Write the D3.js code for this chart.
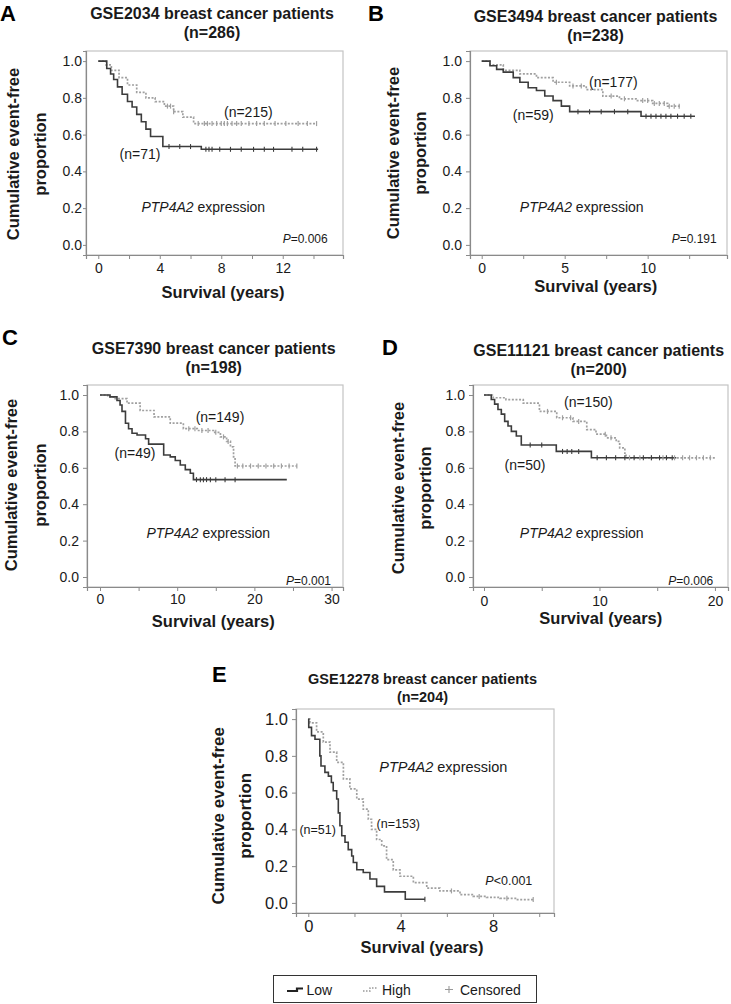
<!DOCTYPE html>
<html><head><meta charset="utf-8">
<script src="https://cdn.jsdelivr.net/npm/d3@7"></script>
<style>
body{margin:0;background:#fff}
svg{display:block;font-family:"Liberation Sans",Arial,Helvetica,sans-serif}
</style>
</head><body>
<svg id="chart" width="731" height="1004"></svg>
<script>
// ---------------- data ----------------
const yTicks = [0, 0.2, 0.4, 0.6, 0.8, 1.0];

// A: GSE2034
const aLowT  = [0, 0.55, 0.8, 1.0, 1.25, 1.55, 1.9, 2.2, 2.5, 2.8, 3.1, 3.4, 4.2, 6.7, 14.3];
const aLowS  = [1, 0.96, 0.93, 0.90, 0.86, 0.82, 0.78, 0.75, 0.71, 0.67, 0.63, 0.59, 0.535, 0.52, 0.52];
const aHighT = [0, 0.5, 0.85, 1.35, 1.9, 2.5, 3.1, 3.7, 4.3, 4.9, 5.5, 6.2, 14.2];
const aHighS = [1, 0.98, 0.95, 0.91, 0.87, 0.83, 0.80, 0.78, 0.755, 0.725, 0.695, 0.66, 0.66];
const aLowCens  = [4.6, 5.3, 6.0, 7.0, 7.2, 7.4, 7.9, 8.6, 9.3, 10.1, 10.8, 11.4, 12.6, 13.3, 14.2];
const aHighCens = [4.5, 4.7, 4.9, 6.5, 6.9, 7.1, 7.4, 7.7, 8.0, 8.2, 8.4, 8.7, 9.0, 9.3, 9.8, 10.3, 10.8, 11.5, 12.2, 13.0, 13.6, 14.2];
const aTicks = [0, 2, 4, 6, 8, 10, 12, 14];
const aLabels = [0, 4, 8, 12];

// B: GSE3494
const bLowT  = [0, 0.5, 0.9, 1.3, 1.9, 2.3, 2.8, 3.3, 3.8, 4.3, 4.8, 5.3, 9.6, 12.85];
const bLowS  = [1, 0.975, 0.955, 0.94, 0.91, 0.885, 0.855, 0.84, 0.81, 0.785, 0.755, 0.725, 0.70, 0.70];
const bHighT = [0, 0.5, 1.3, 2.3, 3.3, 4.3, 5.3, 6.3, 7.3, 8.3, 9.3, 10.3, 11.2, 12.0];
const bHighS = [1, 0.98, 0.95, 0.93, 0.91, 0.885, 0.865, 0.845, 0.81, 0.795, 0.785, 0.77, 0.755, 0.755];
const bLowCens  = [5.8, 6.5, 7.2, 8.0, 8.8, 9.9, 10.2, 10.5, 10.8, 11.1, 11.4, 11.8, 12.2, 12.6];
const bHighCens = [4.5, 5.5, 6.0, 7.8, 8.6, 9.7, 10.0, 10.4, 10.7, 11.0, 11.3, 11.6, 11.9];
const bTicks = [0, 2.5, 5, 7.5, 10, 12.5];
const bLabels = [0, 5, 10];

// C: GSE7390
const cLowT  = [0, 1.3, 2.2, 2.6, 2.85, 3.3, 3.7, 4.15, 4.8, 5.9, 6.3, 8.25, 9.1, 9.75, 10.4, 11.05, 11.7, 12.1, 24.2];
const cLowS  = [1, 0.99, 0.97, 0.945, 0.91, 0.845, 0.815, 0.79, 0.78, 0.76, 0.73, 0.67, 0.66, 0.64, 0.615, 0.59, 0.57, 0.535, 0.535];
const cHighT = [0, 1.0, 1.8, 3.5, 5.2, 7.0, 9.1, 10.8, 12.6, 14.7, 15.6, 16.4, 16.9, 17.3, 17.5, 25.5];
const cHighS = [1, 0.99, 0.98, 0.955, 0.915, 0.88, 0.845, 0.815, 0.805, 0.795, 0.77, 0.745, 0.715, 0.66, 0.61, 0.61];
const cLowCens  = [12.5, 13.0, 13.4, 13.8, 14.3, 15.0, 16.2, 17.5];
const cHighCens = [11.5, 12.3, 13.2, 14.0, 15.0, 16.0, 16.6, 17.8, 18.5, 19.5, 20.5, 21.5, 22.5, 23.5, 24.5, 25.5];
const cTicks = [0, 5, 10, 15, 20, 25, 30];
const cLabels = [0, 10, 20, 30];

// D: GSE11121
const dLowT  = [0, 0.63, 0.92, 1.21, 1.5, 1.79, 2.08, 2.37, 2.8, 3.23, 6.26, 9.3, 16.65];
const dLowS  = [1, 0.975, 0.95, 0.92, 0.895, 0.855, 0.83, 0.80, 0.775, 0.725, 0.69, 0.655, 0.655];
const dHighT = [0, 0.8, 1.9, 3.4, 4.8, 6.3, 7.7, 8.9, 9.7, 10.6, 11.45, 11.75, 12.2, 12.3, 20.1];
const dHighS = [1, 0.985, 0.975, 0.955, 0.91, 0.875, 0.855, 0.81, 0.785, 0.765, 0.745, 0.71, 0.68, 0.655, 0.655];
const dLowCens  = [4.0, 5.0, 6.8, 7.2, 7.6, 8.2, 9.8, 10.6, 11.4, 12.2, 13.0, 13.8, 14.5, 15.2, 15.8, 16.3];
const dHighCens = [5.5, 6.8, 7.5, 8.2, 10.5, 11.0, 12.6, 13.5, 14.5, 15.5, 16.5, 17.2, 17.8, 18.4, 19.0, 19.6];
const dTicks = [0, 5, 10, 15, 20];
const dLabels = [0, 10, 20];

// E: GSE12278
const eLowT  = [0, 0.02, 0.14, 0.29, 0.5, 0.55, 0.72, 0.87, 1.0, 1.08, 1.23, 1.3, 1.37, 1.45, 1.59, 1.73, 1.88, 1.95, 2.1, 2.38, 2.67, 2.96, 3.3, 4.2, 5.05];
const eLowS  = [1, 0.955, 0.91, 0.89, 0.80, 0.745, 0.71, 0.69, 0.655, 0.61, 0.565, 0.49, 0.42, 0.365, 0.33, 0.29, 0.255, 0.22, 0.18, 0.165, 0.13, 0.09, 0.06, 0.02, 0.02];
const eHighT = [0, 0.07, 0.36, 0.65, 0.94, 1.23, 1.52, 1.8, 2.1, 2.38, 2.6, 2.74, 2.96, 3.18, 3.39, 3.68, 3.97, 4.55, 5.13, 5.7, 6.57, 7.14, 7.72, 8.3, 9.02, 9.74];
const eHighS = [1, 0.98, 0.93, 0.875, 0.82, 0.765, 0.675, 0.62, 0.565, 0.51, 0.455, 0.40, 0.345, 0.31, 0.235, 0.18, 0.145, 0.11, 0.08, 0.065, 0.045, 0.035, 0.03, 0.025, 0.018, 0.018];
const eLowCens  = [5.05];
const eHighCens = [6.2, 7.4, 8.6, 9.74];
const eTicks = [0, 2, 4, 6, 8, 10];
const eLabels = [0, 4, 8];

const legendLabels = ["Low", "High", "Censored"];

// ---------------- layout ----------------
const panels = [
  { letter:"A", lx:0, ly:20.5, frame:[86,51,343,255], xDom:[-0.8,15.92],
    title:["GSE2034 breast cancer patients","(n=286)"], tcx:212, tys:[19,38], tfs:16,
    ytx:[13.3,40], ytcy:154, ytfs:16.5, xtcx:223, xty:298, xtfs:16.5,
    tickFs:14, yPad:1, ySize:3, xPad:4,
    lowT:aLowT, lowS:aLowS, highT:aHighT, highS:aHighS, lowC:aLowCens, highC:aHighCens,
    ticks:aTicks, labels:aLabels,
    nHigh:["(n=215)",248.3,116.7], nLow:["(n=71)",140,159], nfs:14,
    expr:[203.3,211.7], efs:14, pTxt:["=0.006","P"], p:[327.7,243], pfs:12 },
  { letter:"B", lx:368, ly:20.5, frame:[470,51,727,255], xDom:[-0.705,14.78],
    title:["GSE3494 breast cancer patients","(n=238)"], tcx:595.5, tys:[22,41], tfs:16,
    ytx:[393.3,420], ytcy:153, ytfs:16.5, xtcx:595.8, xty:292, xtfs:16.5,
    tickFs:14, yPad:4, ySize:4, xPad:4,
    lowT:bLowT, lowS:bLowS, highT:bHighT, highS:bHighS, lowC:bLowCens, highC:bHighCens,
    ticks:bTicks, labels:bLabels,
    nHigh:["(n=177)",613.3,86.7], nLow:["(n=59)",533.3,120], nfs:14,
    expr:[581.7,211.7], efs:14, pTxt:["=0.191","P"], p:[716.7,243], pfs:12 },
  { letter:"C", lx:2, ly:345, frame:[87,385,343,587], xDom:[-1.684,31.48],
    title:["GSE7390 breast cancer patients","(n=198)"], tcx:213.7, tys:[354,373], tfs:16,
    ytx:[11.7,40], ytcy:485, ytfs:16.5, xtcx:213.3, xty:627, xtfs:16.5,
    tickFs:14, yPad:4, ySize:4, xPad:3,
    lowT:cLowT, lowS:cLowS, highT:cHighT, highS:cHighS, lowC:cLowCens, highC:cHighCens,
    ticks:cTicks, labels:cLabels,
    nHigh:["(n=149)",220,421.7], nLow:["(n=49)",135,458.3], nfs:14,
    expr:[208.3,538.3], efs:14, pTxt:["=0.001","P"], p:[331,585], pfs:12 },
  { letter:"D", lx:382, ly:355, frame:[473,385,728,587], xDom:[-0.952,21.13],
    title:["GSE11121 breast cancer patients","(n=200)"], tcx:598.7, tys:[356,375], tfs:16,
    ytx:[398.3,425], ytcy:488, ytfs:16.5, xtcx:600.8, xty:624, xtfs:16.5,
    tickFs:14, yPad:4, ySize:4, xPad:5,
    lowT:dLowT, lowS:dLowS, highT:dHighT, highS:dHighS, lowC:dLowCens, highC:dHighCens,
    ticks:dTicks, labels:dLabels,
    nHigh:["(n=150)",588.3,406.7], nLow:["(n=50)",525,470], nfs:14,
    expr:[581.7,538.3], efs:14, pTxt:["=0.006","P"], p:[713.3,585], pfs:12 },
  { letter:"E", lx:212, ly:682, frame:[296,709,554,913], xDom:[-0.532,10.64],
    title:["GSE12278 breast cancer patients","(n=204)"], tcx:422.5, tys:[684,702], tfs:14.5,
    ytx:[218.3,245], ytcy:815.8, ytfs:17, xtcx:422, xty:953, xtfs:16.5,
    tickFs:16.5, yPad:4, ySize:4, xPad:3,
    lowT:eLowT, lowS:eLowS, highT:eHighT, highS:eHighS, lowC:eLowCens, highC:eHighCens,
    ticks:eTicks, labels:eLabels,
    nHigh:["(n=153)",398.3,827.8], nLow:["(n=51)",317.7,833.5], nfs:12.5,
    expr:[443.3,771.7], efs:14.5, pTxt:["<0.001","P"], p:[532.3,885], pfs:12.5 }
];

const LOW_COL = "#3c3c3c", HIGH_COL = "#a0a0a0", TXT = "#1a1a1a";
const svg = d3.select("#chart");

function survAt(T, S, t) {
  const i = d3.bisectRight(T, t) - 1;
  return S[Math.max(0, i)];
}

panels.forEach(p => {
  const [fx0, fy0, fx1, fy1] = p.frame;
  const x = d3.scaleLinear().domain(p.xDom).range([fx0, fx1]);
  const y = d3.scaleLinear().domain([-0.055, 1.055]).range([fy1, fy0]);
  const g = svg.append("g");

  // frame
  g.append("rect").attr("x", fx0).attr("y", fy0).attr("width", fx1 - fx0).attr("height", fy1 - fy0)
    .attr("fill", "none").attr("stroke", "#c4c4c4").attr("stroke-width", 1.2);

  // y axis
  const ya = g.append("g").attr("transform", `translate(${fx0},0)`)
    .call(d3.axisLeft(y).tickValues(yTicks).tickFormat(d3.format(".1f")).tickSize(p.ySize).tickPadding(p.yPad));
  ya.select(".domain").attr("stroke", "#8a8a8a").attr("stroke-width", 1.2);
  ya.selectAll(".tick line").attr("stroke", "#8a8a8a");
  ya.selectAll("text").attr("font-size", p.tickFs).attr("fill", TXT).attr("font-family", "Liberation Sans, Arial, sans-serif");

  // x axis
  const xa = g.append("g").attr("transform", `translate(0,${fy1})`)
    .call(d3.axisBottom(x).tickValues(p.ticks).tickFormat(d => p.labels.includes(d) ? d : "").tickSize(4).tickPadding(p.xPad));
  xa.select(".domain").attr("stroke", "#8a8a8a").attr("stroke-width", 1.2);
  xa.selectAll(".tick line").attr("stroke", "#8a8a8a");
  xa.selectAll("text").attr("font-size", p.tickFs).attr("fill", TXT).attr("font-family", "Liberation Sans, Arial, sans-serif");

  // curves
  const line = d3.line().x(d => x(d[0])).y(d => y(d[1])).curve(d3.curveStepAfter);
  const highPts = p.highT.map((t, i) => [t, p.highS[i]]);
  const lowPts = p.lowT.map((t, i) => [t, p.lowS[i]]);
  g.append("path").attr("d", line(highPts)).attr("fill", "none")
    .attr("stroke", HIGH_COL).attr("stroke-width", 1.7).attr("stroke-dasharray", "2,1.6");
  g.append("path").attr("d", line(lowPts)).attr("fill", "none")
    .attr("stroke", LOW_COL).attr("stroke-width", 1.6);

  // censor marks
  g.selectAll(".ch").data(p.highC).join("line")
    .attr("x1", d => x(d)).attr("x2", d => x(d))
    .attr("y1", d => y(survAt(p.highT, p.highS, d)) - 2.5)
    .attr("y2", d => y(survAt(p.highT, p.highS, d)) + 2.5)
    .attr("stroke", HIGH_COL).attr("stroke-width", 1.2);
  g.selectAll(".cl").data(p.lowC).join("line")
    .attr("x1", d => x(d)).attr("x2", d => x(d))
    .attr("y1", d => y(survAt(p.lowT, p.lowS, d)) - 2.5)
    .attr("y2", d => y(survAt(p.lowT, p.lowS, d)) + 2.5)
    .attr("stroke", LOW_COL).attr("stroke-width", 1.1);

  // panel letter
  g.append("text").attr("x", p.lx).attr("y", p.ly).text(p.letter)
    .attr("font-size", 22).attr("font-weight", "bold").attr("fill", "#000");

  // title
  p.title.forEach((t, i) => {
    g.append("text").attr("x", p.tcx).attr("y", p.tys[i]).attr("text-anchor", "middle")
      .attr("font-size", p.tfs).attr("font-weight", "bold").attr("fill", TXT).text(t);
  });

  // y title
  ["Cumulative event-free", "proportion"].forEach((t, i) => {
    const bx = p.ytx[i] + 0.35 * p.ytfs;
    g.append("text").attr("transform", `translate(${bx},${p.ytcy}) rotate(-90)`)
      .attr("text-anchor", "middle").attr("font-size", p.ytfs).attr("font-weight", "bold")
      .attr("fill", TXT).text(t);
  });

  // x title
  g.append("text").attr("x", p.xtcx).attr("y", p.xty).attr("text-anchor", "middle")
    .attr("font-size", p.xtfs).attr("font-weight", "bold").attr("fill", TXT).text("Survival (years)");

  // n labels
  [p.nHigh, p.nLow].forEach(n => {
    g.append("text").attr("x", n[1]).attr("y", n[2]).attr("text-anchor", "middle")
      .attr("font-size", p.nfs).attr("fill", TXT).text(n[0]);
  });

  // expression label
  const et = g.append("text").attr("x", p.expr[0]).attr("y", p.expr[1]).attr("text-anchor", "middle")
    .attr("font-size", p.efs).attr("fill", TXT);
  et.append("tspan").attr("font-style", "italic").text("PTP4A2");
  et.append("tspan").text(" expression");

  // p value
  const pt = g.append("text").attr("x", p.p[0]).attr("y", p.p[1]).attr("text-anchor", "end")
    .attr("font-size", p.pfs).attr("fill", TXT);
  pt.append("tspan").attr("font-style", "italic").text(p.pTxt[1]);
  pt.append("tspan").text(p.pTxt[0]);
});

// ---------------- legend ----------------
const lg = svg.append("g");
lg.append("rect").attr("x", 273.5).attr("y", 975.5).attr("width", 263).attr("height", 27)
  .attr("fill", "#fff").attr("stroke", "#333").attr("stroke-width", 1);
lg.append("path").attr("d", "M287,991 H297 V988.5 H303").attr("fill", "none")
  .attr("stroke", "#222").attr("stroke-width", 2.2);
lg.append("path").attr("d", "M363,991 H370 V988 H378").attr("fill", "none")
  .attr("stroke", "#999").attr("stroke-width", 1.4).attr("stroke-dasharray", "1.5,1.5");
lg.append("path").attr("d", "M445,989.5 H453 M449,986 V993").attr("fill", "none")
  .attr("stroke", "#999").attr("stroke-width", 1.1);
const legX = [306.5, 382, 460];
legendLabels.forEach((t, i) => {
  lg.append("text").attr("x", legX[i]).attr("y", 994.5).attr("font-size", 14)
    .attr("fill", TXT).text(t);
});
</script>
</body></html>
